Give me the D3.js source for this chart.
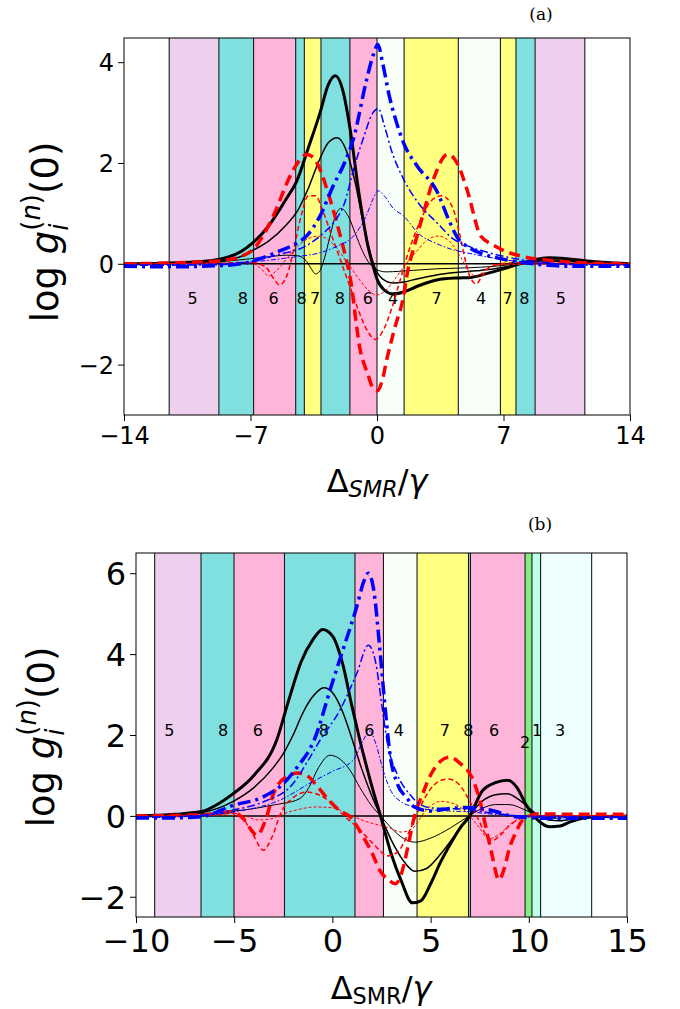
<!DOCTYPE html>
<html><head><meta charset="utf-8">
<script src="https://cdn.jsdelivr.net/npm/d3@7"></script>
<style>body{margin:0;background:#fff}svg{display:block}</style>
</head><body><svg id="c" width="680" height="1009"></svg>
<script>
// ---------- Panel (a) data ----------
const aXTicks = [-14, -7, 0, 7, 14];
const aYTicks = [-2, 0, 2, 4];
const aBandEdges = [-11.5, -8.75, -6.83, -4.5, -4.02, -3.1, -1.5, 0, 1.5, 4.5, 6.83, 7.69, 8.75, 11.5];
const aBandTypes = ["5", "8", "6", "8", "7", "8", "6", "4", "7", "4", "7", "8", "5"];
const aLabelX = [-10.2, -7.42, -5.72, -4.17, -3.43, -2.05, -0.51, 0.89, 3.30, 5.76, 7.23, 8.15, 10.17];
const aLabelText = ["5", "8", "6", "8", "7", "8", "6", "4", "7", "4", "7", "8", "5"];
const aLabelY = [-0.68, -0.68, -0.68, -0.68, -0.68, -0.68, -0.68, -0.68, -0.68, -0.68, -0.68, -0.68, -0.68];

const aBlackThickX = [-14,-12,-10,-8.7,-7.5,-6.86,-6,-5,-4.44,-3.8,-3.15,-2.7,-2.3,-1.9,-1.5,-1.0,-0.5,-0.25,0,0.4,0.9,1.47,2.2,3.3,4.5,5.2,6.0,7.0,7.9,8.7,9.5,10.5,11.5,12.5,14];
const aBlackThickY = [0,0.01,0.04,0.09,0.25,0.42,0.75,1.3,1.64,2.3,3.0,3.55,3.73,3.45,2.7,1.4,0.35,0,-0.3,-0.52,-0.6,-0.56,-0.45,-0.32,-0.28,-0.27,-0.2,-0.1,0.0,0.08,0.12,0.1,0.06,0.03,0];
const aBlackMedX = [-14,-10,-8.7,-7.5,-6.86,-6,-5,-4.4,-3.8,-3.2,-2.7,-2.2,-1.7,-1.2,-0.7,-0.2,0.3,0.9,1.5,2.2,3.3,4.5,5.5,6.5,7.3,7.9,8.7,9.5,10.5,11.5,14];
const aBlackMedY = [0,0.02,0.06,0.15,0.27,0.45,0.78,1.05,1.5,2.05,2.4,2.5,2.25,1.6,0.7,0.0,-0.3,-0.38,-0.36,-0.3,-0.22,-0.17,-0.14,-0.1,-0.05,0.0,0.05,0.08,0.06,0.03,0];
const aBlackThinX = [-14,-10,-8.7,-7,-6,-5,-4.4,-3.9,-3.6,-3.4,-3.2,-2.9,-2.6,-2.3,-2.0,-1.6,-1.2,-0.8,-0.4,0,0.5,1.2,2,3.3,5,6.5,7.3,7.9,8.7,9.5,10.5,12,14];
const aBlackThinY = [0,0.01,0.04,0.1,0.14,0.17,0.16,0.05,-0.12,-0.2,-0.16,0.12,0.55,0.95,1.1,0.95,0.6,0.25,0.0,-0.12,-0.16,-0.15,-0.13,-0.1,-0.08,-0.05,-0.02,0,0.03,0.05,0.04,0.02,0];

const aRedThickX = [-14,-11,-8.7,-7.5,-6.84,-5.74,-4.81,-4.3,-3.9,-3.5,-3.15,-2.7,-2.23,-1.85,-1.5,-0.94,-0.5,-0.2,0.02,0.3,0.54,1.0,1.47,1.65,2.1,2.58,3.2,3.9,4.1,4.5,5.0,5.74,6.4,7.03,8,9.5,11.4,14];
const aRedThickY = [0,0.02,0.06,0.15,0.29,0.95,1.74,2.05,2.17,2.1,1.87,1.4,0.82,0.3,-0.24,-1.69,-2.2,-2.48,-2.52,-2.3,-1.9,-1.25,-0.64,-0.24,0.4,1.02,1.75,2.17,2.15,1.95,1.45,0.55,0.38,0.26,0.15,0.07,0.02,0];
const aRedMedX = [-14,-9,-7,-6.2,-5.7,-5.4,-5.0,-4.6,-4.2,-3.8,-3.4,-3.0,-2.5,-2.0,-1.5,-1.0,-0.5,-0.1,0.3,0.8,1.3,1.8,2.4,3.0,3.6,4.2,4.6,4.9,5.2,5.5,5.8,6.3,7.5,14];
const aRedMedY = [0,0.01,0.03,-0.05,-0.3,-0.42,-0.25,0.3,0.95,1.35,1.35,1.05,0.55,0.05,-0.45,-0.95,-1.35,-1.5,-1.35,-0.9,-0.3,0.3,0.85,1.25,1.35,1.1,0.55,0.05,-0.3,-0.4,-0.25,-0.05,0.02,0];
const aRedThinX = [-14,-9,-7,-6.4,-6.0,-5.6,-5.0,-4.4,-3.8,-3.25,-2.7,-2.0,-1.5,-1.0,-0.5,0,0.5,1.0,1.5,2.2,2.8,3.4,4.0,4.6,5.1,5.5,6.0,6.5,14];
const aRedThinY = [0,0.01,0.02,-0.1,-0.24,-0.15,0.1,0.35,0.5,0.55,0.48,0.2,-0.05,-0.3,-0.52,-0.62,-0.52,-0.3,-0.05,0.25,0.48,0.55,0.45,0.15,-0.15,-0.25,-0.12,-0.02,0];

const aBlueThickX = [-14,-11.5,-9,-7.5,-6.5,-5.55,-4.5,-3.9,-3.15,-2.42,-1.8,-1.31,-0.57,-0.2,0.05,0.3,0.7,1.0,1.47,2.2,3.3,4.0,4.4,5.2,6.0,7.0,8.0,9.5,11,14];
const aBlueThickY = [-0.05,-0.06,-0.04,0.0,0.1,0.23,0.4,0.55,0.95,1.55,2.0,2.47,3.66,4.15,4.35,4.0,3.3,2.9,2.4,1.95,1.45,0.85,0.55,0.3,0.18,0.09,0.03,-0.03,-0.05,-0.05];
const aBlueMedX = [-14,-9,-6.86,-5.5,-3.9,-3.0,-2.4,-1.8,-1.3,-0.7,-0.3,0.08,0.4,0.8,1.47,2.3,3.3,4.2,5.2,6.2,7,8,9.5,11,14];
const aBlueMedY = [-0.03,-0.02,0.06,0.18,0.36,0.6,0.82,1.2,1.87,2.55,2.95,3.08,2.75,2.25,1.68,1.2,0.82,0.5,0.33,0.22,0.15,0.08,0.02,-0.02,-0.03];
const aBlueThinX = [-14,-9,-6,-4.5,-3.15,-2.2,-1.3,-0.6,-0.2,0.05,0.4,0.9,1.47,2.3,3.3,4.2,5.2,6.2,7,8.5,10,14];
const aBlueThinY = [-0.02,0.0,0.07,0.14,0.22,0.35,0.55,0.95,1.3,1.45,1.35,1.1,0.95,0.6,0.4,0.28,0.2,0.13,0.08,0.03,0.0,-0.02];

// ---------- Panel (b) data ----------
const bXTicks = [-10, -5, 0, 5, 10, 15];
const bYTicks = [-2, 0, 2, 4, 6];
const bBandEdges = [-9.05, -6.69, -5.01, -2.44, 1.15, 2.6, 4.31, 6.93, 7.03, 9.81, 10.16, 10.6, 13.2];
const bBandTypes = ["5", "8", "6", "8", "6", "4", "7", "8", "6", "2", "1", "3"];
const bLabelX = [-8.3, -5.56, -3.79, -0.43, 1.88, 3.38, 5.72, 6.92, 8.23, 9.81, 10.42, 11.59];
const bLabelText = ["5", "8", "6", "8", "6", "4", "7", "8", "6", "2", "1", "3"];
const bLabelY = [2.12, 2.12, 2.12, 2.12, 2.12, 2.12, 2.12, 2.12, 2.12, 1.83, 2.12, 2.12];

const bBlackThickX = [-10,-8,-6.74,-5.05,-4,-2.84,-2.2,-1.6,-1.0,-0.5,0,0.5,1.0,1.4,2.0,2.45,3.0,3.5,4.07,4.5,5.02,5.5,6.0,6.5,7.0,7.62,8.3,8.92,9.4,9.87,10.57,11.08,11.6,12.1,13.2,15];
const bBlackThickY = [0,0.04,0.1,0.55,1.0,1.87,2.9,3.8,4.35,4.61,4.45,3.8,2.7,1.87,0.75,0,-0.95,-1.6,-2.15,-2.1,-1.66,-1.15,-0.7,-0.3,0.0,0.61,0.82,0.88,0.7,0.27,-0.15,-0.27,-0.25,-0.15,-0.03,0];
const bBlackMedX = [-10,-8,-6.7,-5.05,-4,-3,-2.5,-2,-1.5,-1,-0.43,0,0.5,1.0,1.5,2.0,2.45,3.0,3.6,4.2,4.8,5.5,6.2,6.96,7.6,8.3,8.9,9.5,10.0,10.5,11.0,11.6,12.5,15];
const bBlackMedY = [0,0.03,0.08,0.36,0.7,1.2,1.54,2.0,2.55,2.95,3.17,3.05,2.6,1.9,1.15,0.5,0.0,-0.6,-1.1,-1.37,-1.3,-0.95,-0.5,0.0,0.35,0.52,0.55,0.4,0.2,0.0,-0.1,-0.12,-0.05,0];
const bBlackThinX = [-10,-8,-6.7,-5,-4,-3,-2.5,-1.65,-1.2,-0.7,-0.12,0.4,0.9,1.4,2.0,2.45,3.0,3.6,4.2,5.0,6.0,6.96,7.6,8.3,9.0,9.8,10.5,11.2,12.5,15];
const bBlackThinY = [0,0.02,0.05,0.12,0.18,0.27,0.31,0.43,0.7,1.2,1.5,1.4,1.13,0.7,0.25,0.0,-0.3,-0.55,-0.65,-0.55,-0.3,0.0,0.18,0.28,0.28,0.15,0.0,-0.06,-0.02,0];

const bRedThickX = [-10,-7,-6,-5.2,-4.53,-4.2,-3.85,-3.4,-3.0,-2.33,-1.74,-1.3,-0.8,-0.2,0.4,0.9,1.57,2.0,2.42,2.9,3.2,3.5,3.85,4.15,4.6,5.02,5.5,5.97,6.5,7.1,7.5,7.79,8.1,8.48,8.75,9.0,9.35,9.7,10.5,12,15];
const bRedThickY = [0,0.02,0.05,0.1,-0.07,-0.3,-0.48,-0.1,0.55,0.97,1.06,1.0,0.75,0.4,0.12,-0.02,-0.52,-0.9,-1.35,-1.6,-1.68,-1.45,-0.75,-0.06,0.55,1.03,1.35,1.45,1.3,0.95,0.4,-0.23,-0.9,-1.58,-1.3,-0.82,-0.4,-0.1,0.05,0.04,0.04];
const bRedMedX = [-10,-6,-5.05,-4.5,-4.0,-3.52,-3.1,-2.6,-2.0,-1.31,-0.6,0,0.6,1.24,1.9,2.4,2.77,3.3,3.9,4.4,4.9,5.4,5.89,6.4,6.9,7.4,7.8,8.14,8.5,9.0,9.5,10,15];
const bRedMedY = [0,0.03,0.07,-0.1,-0.5,-0.85,-0.55,0.1,0.45,0.59,0.5,0.3,0.0,-0.27,-0.6,-0.85,-0.99,-0.9,-0.4,0.15,0.6,0.85,0.91,0.8,0.45,-0.05,-0.45,-0.61,-0.5,-0.25,-0.08,0.0,0];
const bRedThinX = [-10,-6,-4.5,-3.8,-3.2,-2.5,-1.8,-0.89,0,0.8,1.6,2.3,2.93,3.5,4.1,4.7,5.5,6.2,6.9,7.5,7.96,8.5,9.2,10,15];
const bRedThinY = [0,0.02,0.0,-0.1,-0.08,0.05,0.15,0.22,0.2,0.05,-0.12,-0.22,-0.3,-0.4,-0.3,0.1,0.36,0.3,0.05,-0.3,-0.57,-0.45,-0.15,0,0];

const bBlueThickX = [-10,-8,-6.7,-5.05,-3.52,-2.5,-1.8,-0.95,0,0.6,1.24,1.6,1.83,2.1,2.42,2.7,2.94,3.3,3.8,4.15,5.0,5.8,6.75,7.96,9.35,11,15];
const bBlueThickY = [-0.05,-0.05,-0.02,0.26,0.47,0.8,1.2,1.85,3.3,4.2,5.17,5.8,6.0,5.6,4.1,2.6,1.5,0.8,0.44,0.23,0.12,0.17,0.21,0.15,-0.02,-0.06,-0.06];
const bBlueMedX = [-10,-7,-5,-3.5,-2,-1.2,-0.63,0.39,1.24,1.83,2.2,2.5,2.8,3.3,4.0,4.4,5.0,6.0,7.0,8.0,9.5,11,15];
const bBlueMedY = [-0.04,0.0,0.15,0.35,0.8,1.4,1.87,2.62,3.52,4.22,3.8,2.8,1.8,1.03,0.5,0.3,0.2,0.18,0.15,0.08,0,-0.04,-0.04];
const bBlueThinX = [-10,-7,-5,-2.67,-1,0,1.06,1.6,1.9,2.2,2.6,3.0,3.5,4.2,5,6,7,8,10,15];
const bBlueThinY = [-0.03,0.0,0.1,0.39,0.85,1.1,1.38,1.9,2.1,1.8,1.1,0.6,0.35,0.22,0.15,0.12,0.1,0.05,0,-0.02];

// ---------- styles ----------
const bandColor = {"1":"#bfffe9","2":"#80ee80","3":"#eeffff","4":"#f7fff8","5":"#eed0ee","6":"#ffb4d9","7":"#ffff80","8":"#80e0e0"};
const sBlackThick = {stroke:"#000", w:3, dash:null};
const sBlackMed = {stroke:"#000", w:1.5, dash:null};
const sBlackThin = {stroke:"#000", w:1, dash:null};
const sRedThick = {stroke:"#ff0000", w:3.5, dash:"11,6"};
const sRedMed = {stroke:"#ff0000", w:1.5, dash:"5,3"};
const sRedThin = {stroke:"#ff0000", w:1, dash:"3,2"};
const sBlueThick = {stroke:"#0000ff", w:3.5, dash:"13,5,3,5"};
const sBlueMed = {stroke:"#0000ff", w:1.5, dash:"8,3,2,3"};
const sBlueThin = {stroke:"#0000ff", w:1, dash:"5,2,1.5,2"};

const svg = d3.select("#c");
const FONT = "DejaVu Sans";

function richText(parent, parts, F) {
  const g = parent.append("g");
  let x = 0, start = 0;
  parts.forEach(p => {
    const fs = F * (p.s || 1);
    const t = g.append("text").attr("font-family", FONT).attr("font-size", fs).attr("fill", "#000")
      .attr("xml:space", "preserve").style("white-space", "pre");
    p.seg.forEach(sg => t.append("tspan").attr("font-style", sg[1] ? "italic" : "normal").text(sg[0]));
    if (!p.stack) start = x;
    t.attr("x", start).attr("y", (p.dy || 0) * F);
    const w = t.node().getComputedTextLength();
    x = p.stack ? Math.max(x, start + w) : x + w;
  });
  return {g, width: x};
}

function drawPanel(cfg) {
  const x = d3.scaleLinear().domain(cfg.xd).range([cfg.l, cfg.r]);
  const y = d3.scaleLinear().domain(cfg.yd).range([cfg.b, cfg.t]);
  const root = svg.append("g");
  const clipId = "clip" + cfg.id;
  root.append("clipPath").attr("id", clipId).append("rect")
    .attr("x", cfg.l).attr("y", cfg.t).attr("width", cfg.r - cfg.l).attr("height", cfg.b - cfg.t);
  const plot = root.append("g").attr("clip-path", `url(#${clipId})`);

  cfg.types.forEach((tp, i) => {
    plot.append("rect")
      .attr("x", x(cfg.edges[i])).attr("y", cfg.t)
      .attr("width", x(cfg.edges[i + 1]) - x(cfg.edges[i])).attr("height", cfg.b - cfg.t)
      .attr("fill", bandColor[tp]);
  });
  cfg.edges.forEach(e => {
    plot.append("line").attr("x1", x(e)).attr("x2", x(e)).attr("y1", cfg.t).attr("y2", cfg.b)
      .attr("stroke", "#1a1a1a").attr("stroke-width", 1.1);
  });
  cfg.labelText.forEach((tx, i) => {
    plot.append("text").attr("x", x(cfg.labelX[i])).attr("y", y(cfg.labelY[i]))
      .attr("text-anchor", "middle").attr("dy", "0.36em")
      .attr("font-family", FONT).attr("font-size", cfg.labelFs).attr("fill", "#000").text(tx);
  });
  plot.append("line").attr("x1", cfg.l).attr("x2", cfg.r).attr("y1", y(0)).attr("y2", y(0))
    .attr("stroke", "#000").attr("stroke-width", 1.5);
  const line = d3.line().x(d => x(d[0])).y(d => y(d[1])).curve(d3.curveMonotoneX);
  cfg.curves.forEach(c => {
    const pts = c.xs.map((v, i) => [v, c.ys[i]]);
    plot.append("path").attr("d", line(pts)).attr("fill", "none")
      .attr("stroke", c.st.stroke).attr("stroke-width", c.st.w)
      .attr("stroke-dasharray", c.st.dash).attr("stroke-linejoin", "round");
  });
  root.append("rect").attr("x", cfg.l).attr("y", cfg.t).attr("width", cfg.r - cfg.l).attr("height", cfg.b - cfg.t)
    .attr("fill", "none").attr("stroke", "#000").attr("stroke-width", 1);
  const xa = root.append("g").attr("transform", `translate(0,${cfg.b})`)
    .call(d3.axisBottom(x).tickValues(cfg.xTicks).tickSize(6).tickPadding(cfg.xPad).tickFormat(d3.format("d")));
  const ya = root.append("g").attr("transform", `translate(${cfg.l},0)`)
    .call(d3.axisLeft(y).tickValues(cfg.yTicks).tickSize(6).tickPadding(4).tickFormat(d3.format("d")));
  [xa, ya].forEach(a => {
    a.select(".domain").remove();
    a.selectAll("line").attr("stroke", "#000").attr("stroke-width", 1);
    a.selectAll("text").attr("font-family", FONT).attr("font-size", cfg.tickFs).attr("fill", "#000");
  });
  ya.selectAll("text").attr("dy", "0.36em");
  xa.selectAll("text").attr("dy", "0.76em");

  const yl = richText(root, [
    {seg: [["log\u00A0", 0]]},
    {seg: [["g", 1]]},
    {seg: [["i", 1]], s: 0.7, dy: 0.26},
    {seg: [["(", 0], ["n", 1], [")", 0]], s: 0.7, dy: -0.48, stack: true},
    {seg: [["(0)", 0]]}
  ], cfg.ylFs);
  yl.g.attr("transform", `translate(${cfg.ylX},${cfg.ylY + yl.width / 2}) rotate(-90)`);
  const xl = richText(root, [
    {seg: [["Δ", 0]]},
    {seg: [["SMR", cfg.smrItalic ? 1 : 0]], s: 0.7, dy: 0.17},
    {seg: [["/", 0], ["γ", 1]]}
  ], cfg.xlFs);
  xl.g.attr("transform", `translate(${cfg.xlX - xl.width / 2},${cfg.xlY})`);
  root.append("text").attr("x", cfg.tagX).attr("y", cfg.tagY).attr("text-anchor", "middle")
    .attr("font-family", "DejaVu Serif").attr("font-size", 17).attr("fill", "#000").text(cfg.tag);
}

drawPanel({
  id: "a", l: 124, r: 630, t: 38, b: 415, xd: [-14, 14], yd: [-3, 4.48],
  xTicks: aXTicks, yTicks: aYTicks, edges: aBandEdges, types: aBandTypes,
  labelX: aLabelX, labelText: aLabelText, labelY: aLabelY, labelFs: 16,
  curves: [
    {xs: aBlackThickX, ys: aBlackThickY, st: sBlackThick},
    {xs: aBlackMedX, ys: aBlackMedY, st: sBlackMed},
    {xs: aBlackThinX, ys: aBlackThinY, st: sBlackThin},
    {xs: aRedThickX, ys: aRedThickY, st: sRedThick},
    {xs: aRedMedX, ys: aRedMedY, st: sRedMed},
    {xs: aRedThinX, ys: aRedThinY, st: sRedThin},
    {xs: aBlueThickX, ys: aBlueThickY, st: sBlueThick},
    {xs: aBlueMedX, ys: aBlueMedY, st: sBlueMed},
    {xs: aBlueThinX, ys: aBlueThinY, st: sBlueThin}
  ],
  tickFs: 24, xPad: 5, ylFs: 37, ylX: 58, ylY: 232, xlFs: 32, xlX: 377, xlY: 492, smrItalic: true,
  tag: "(a)", tagX: 541, tagY: 20
});

drawPanel({
  id: "b", l: 136, r: 627, t: 553, b: 917, xd: [-10, 15], yd: [-2.5, 6.5],
  xTicks: bXTicks, yTicks: bYTicks, edges: bBandEdges, types: bBandTypes,
  labelX: bLabelX, labelText: bLabelText, labelY: bLabelY, labelFs: 16,
  curves: [
    {xs: bBlackThickX, ys: bBlackThickY, st: sBlackThick},
    {xs: bBlackMedX, ys: bBlackMedY, st: sBlackMed},
    {xs: bBlackThinX, ys: bBlackThinY, st: sBlackThin},
    {xs: bRedThickX, ys: bRedThickY, st: sRedThick},
    {xs: bRedMedX, ys: bRedMedY, st: sRedMed},
    {xs: bRedThinX, ys: bRedThinY, st: sRedThin},
    {xs: bBlueThickX, ys: bBlueThickY, st: sBlueThick},
    {xs: bBlueMedX, ys: bBlueMedY, st: sBlueMed},
    {xs: bBlueThinX, ys: bBlueThinY, st: sBlueThin}
  ],
  tickFs: 32, xPad: 5, ylFs: 37, ylX: 54, ylY: 737, xlFs: 32, xlX: 381, xlY: 999, smrItalic: false,
  tag: "(b)", tagX: 540, tagY: 530
});
</script></body></html>
